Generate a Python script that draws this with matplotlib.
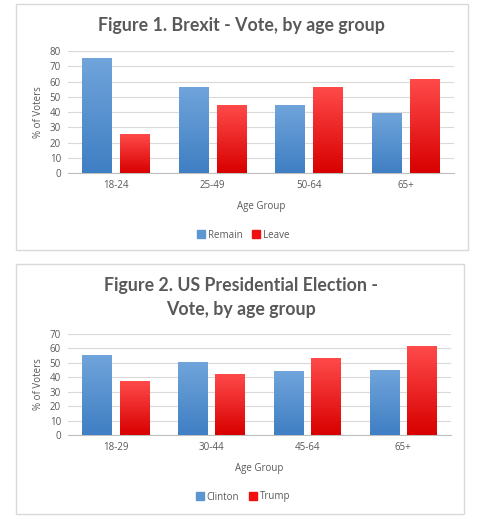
import matplotlib
matplotlib.use("Agg")
import matplotlib.pyplot as plt
import numpy as np
from matplotlib.patches import Rectangle, Patch
from matplotlib.colors import LinearSegmentedColormap

plt.rcParams['font.family'] = ['Open Sans', 'DejaVu Sans']

# data
brexit_groups = ['18-24', '25-49', '50-64', '65+']
remain = [75, 56, 44, 39]
leave = [25, 44, 56, 61]

us_groups = ['18-29', '30-44', '45-64', '65+']
clinton = [55, 50, 44, 45]
trump = [37, 42, 53, 61]

W, H = 484, 524
grey = '#595959'
blue_cm = LinearSegmentedColormap.from_list('b', ['#3f7fc3', '#70a4db'])
red_cm = LinearSegmentedColormap.from_list('r', ['#d80000', '#ff4a4a'])

fig = plt.figure(figsize=(W / 100, H / 100), dpi=100)


def px_axes(x0, y0, x1, y1):
    # pixel box (top-left origin) -> figure axes
    return fig.add_axes([x0 / W, 1 - y1 / H, (x1 - x0) / W, (y1 - y0) / H])


def panel(x0, y0, x1, y1):
    fig.patches.append(Rectangle((x0 / W, 1 - y1 / H), (x1 - x0) / W, (y1 - y0) / H,
                                 transform=fig.transFigure, fill=False,
                                 edgecolor='#d9d9d9', lw=1))


def gradient_bars(ax, bars, cmap):
    grad = np.linspace(0, 1, 128).reshape(-1, 1)
    for b in bars:
        x, w, h = b.get_x(), b.get_width(), b.get_height()
        b.set_visible(False)
        ax.imshow(grad, extent=[x, x + w, 0, h], origin='lower', cmap=cmap,
                  aspect='auto', zorder=3)


def draw_chart(ax, groups, s1, s2, names, ymax):
    x = np.arange(len(groups))
    b1 = ax.bar(x - 0.195, s1, width=0.31)
    b2 = ax.bar(x + 0.195, s2, width=0.31)
    gradient_bars(ax, b1, blue_cm)
    gradient_bars(ax, b2, red_cm)
    ax.set_xlim(-0.5, len(groups) - 0.5)
    ax.set_ylim(0, ymax)
    ax.set_yticks(range(0, ymax + 1, 10))
    ax.set_xticks(x)
    ax.set_xticklabels(groups)
    ax.yaxis.grid(True, color='#d9d9d9', lw=0.8, zorder=0)
    ax.set_axisbelow(True)
    for s in ['top', 'right', 'left']:
        ax.spines[s].set_visible(False)
    ax.spines['bottom'].set_color('#bfbfbf')
    ax.tick_params(length=0, labelsize=7, colors=grey, pad=5)
    ax.set_ylabel('% of Voters', fontsize=7, color=grey, labelpad=4)
    ax.set_xlabel('Age Group', fontsize=7, color=grey, labelpad=7)
    handles = [Patch(color='#5b95d2', label=names[0]), Patch(color='#f01010', label=names[1])]
    return handles


def title(y, txt):
    fig.text(241 / W, 1 - y / H, txt, ha='center', va='center', family=['Lato', 'DejaVu Sans'],
             fontsize=12.8, fontweight='bold', color=grey)


def legend(handles, y):
    fig.legend(handles=handles, loc='center', bbox_to_anchor=(243 / W, 1 - y / H), ncol=2,
               frameon=False, fontsize=7, handlelength=0.8, handleheight=0.8,
               handletextpad=0.3, columnspacing=1.0, labelcolor=grey)


# Figure 1
panel(16, 4, 468, 250)
ax1 = px_axes(68, 51, 454, 173)
h1 = draw_chart(ax1, brexit_groups, remain, leave, ['Remain', 'Leave'], 80)
title(25, 'Figure 1. Brexit - Vote, by age group')
legend(h1, 235)

# Figure 2
panel(16, 264, 464, 514)
ax2 = px_axes(68, 334, 451, 435)
h2 = draw_chart(ax2, us_groups, clinton, trump, ['Clinton', 'Trump'], 70)
title(285, 'Figure 2. US Presidential Election -')
title(310, 'Vote, by age group')
legend(h2, 497)

fig.savefig('out.png', dpi=100)
